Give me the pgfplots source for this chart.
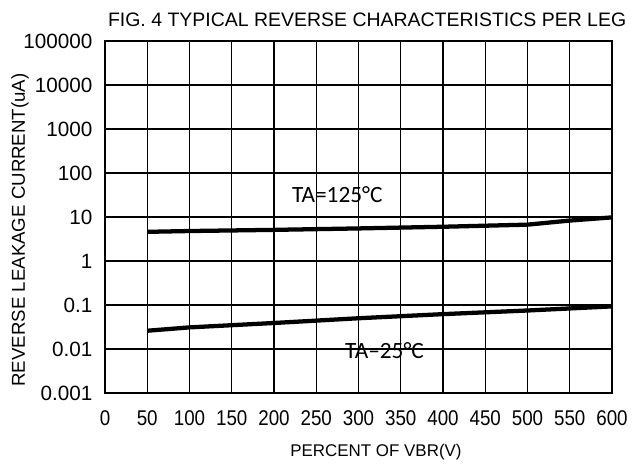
\documentclass[border=0pt]{standalone}
\usepackage{fontspec}
\setmainfont{Liberation Sans}
\newfontfamily\narrowfont[FakeStretch=0.88]{Liberation Sans}
\newfontfamily\calfont{Carlito}
\usepackage{pgfplots}
\pgfplotsset{compat=1.18}

% values
\pgfplotstableread{
x    y
50   4.6
100  4.8
200  5.1
300  5.5
400  6.0
500  6.7
550  8.3
600  9.8
}\hot
\pgfplotstableread{
x    y
50   0.026
100  0.031
200  0.039
300  0.050
400  0.062
500  0.075
600  0.093
}\room

\begin{document}
\begin{tikzpicture}
\path[use as bounding box] (-78.75pt,-53.25pt) rectangle (403.5pt,294.75pt);
\begin{axis}[
    width=380.25pt, height=264pt, scale only axis,
    xmin=0, xmax=600, ymode=log, ymin=1e-3, ymax=1e5,
    xtick={0,50,...,600},
    ytick={1e-3,1e-2,1e-1,1,10,100,1000,10000,100000},
    yticklabels={0.001,0.01,0.1,1,10,100,1000,10000,100000},
    /pgf/number format/assume math mode=true,
    grid=major,
    major grid style={black, line width=1.1pt},
    axis line style={black, line width=1.1pt},
    tick style={draw=none},
    xticklabel style={font=\narrowfont\fontsize{16}{18}\selectfont, yshift=-10pt},
    yticklabel style={font=\fontsize{15.5}{18}\selectfont, xshift=-6pt},
    title={FIG. 4 TYPICAL REVERSE CHARACTERISTICS PER LEG},
    title style={font=\fontsize{14.6}{17}\selectfont, at={(axis description cs:0.517,1)}, anchor=base, yshift=4.5pt, inner sep=0pt},
    xlabel={PERCENT OF VBR(V)},
    xlabel style={font=\fontsize{12.7}{15}\selectfont, at={(axis description cs:0.5345,0)}, anchor=north, yshift=-38pt, inner sep=0pt},
    ylabel={REVERSE LEAKAGE CURRENT(uA)},
    ylabel style={font=\fontsize{14}{17}\selectfont, at={(axis description cs:-0.1677,0.463)}, anchor=center, inner sep=0pt},
]
\addplot[black, line width=3.2pt, line join=round] table[x=x, y=y] {\hot};
\addplot[black, line width=3.2pt, line join=round] table[x=x, y=y] {\room};
\node[anchor=base west, inner sep=0pt, font=\calfont\fontsize{17.5}{20}\selectfont] at (axis cs:221,21.9) {TA=125°C};
\node[anchor=base west, inner sep=0pt, font=\calfont\fontsize{17.5}{20}\selectfont] at (axis cs:284,0.00624) {TA–25°C};
\end{axis}
\end{tikzpicture}
\end{document}
